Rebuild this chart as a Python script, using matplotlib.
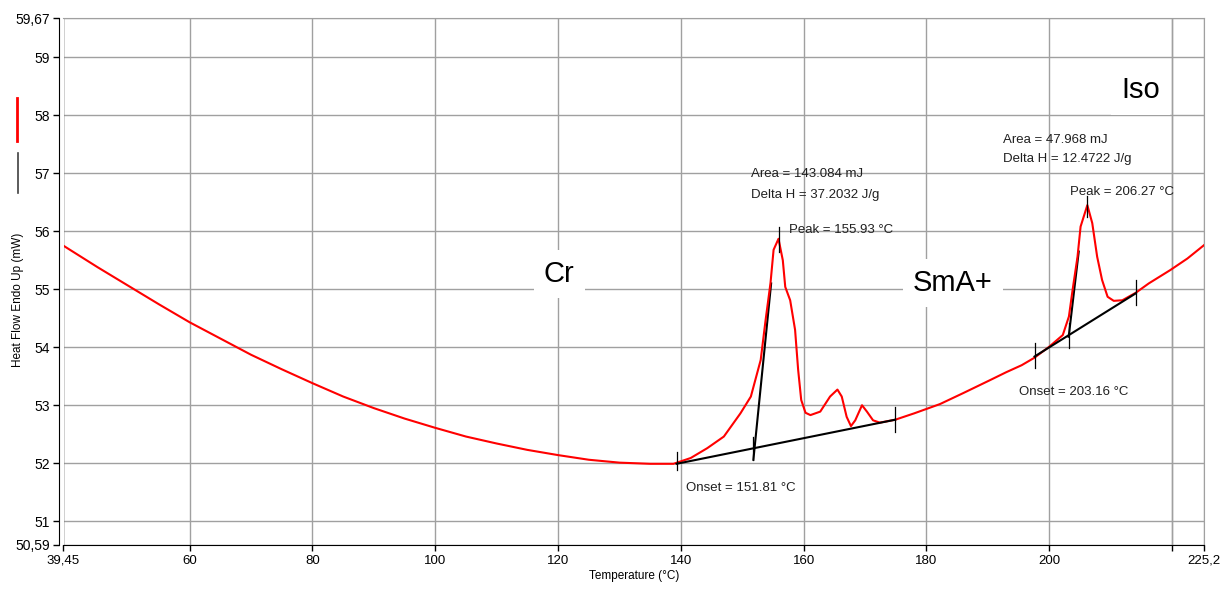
import numpy as np
import matplotlib
matplotlib.use('Agg')
import matplotlib.pyplot as plt
from matplotlib.lines import Line2D

plt.rcParams['font.family'] = ['Liberation Sans', 'DejaVu Sans']

# DSC trace (temperature in C, heat flow in mW)
temp = [39.45, 45.0, 50.0, 55.0, 60.0, 65.0, 70.0, 75.0, 80.0, 85.0, 90.0, 95.0,
        100.0, 105.0, 110.0, 115.0, 120.0, 125.0, 130.0, 135.0, 138.8,
        141.6, 144.3, 147.0, 149.7, 151.4, 153.0, 153.8, 154.6,
        155.1, 155.9, 156.6, 157.0, 157.8, 158.6, 159.1, 159.6, 160.3, 161.1, 162.7,
        164.3, 165.5, 166.2, 167.0, 167.7, 168.4, 169.5, 170.3, 171.3, 172.4, 174.9,
        178.0, 182.2, 186.0, 190.3, 193.0, 195.5, 197.6, 200.0, 202.2, 203.2, 203.8,
        204.6, 205.1, 206.2, 207.0, 207.8, 208.6, 209.5, 210.5, 211.9, 214.1, 216.2,
        219.7, 222.5, 225.2]
heat = [55.75, 55.38, 55.06, 54.74, 54.43, 54.15, 53.87, 53.62, 53.38, 53.15, 52.95, 52.77,
        52.61, 52.46, 52.34, 52.23, 52.14, 52.06, 52.01, 51.99, 51.99,
        52.09, 52.26, 52.46, 52.86, 53.15, 53.78, 54.47, 55.11,
        55.68, 55.87, 55.50, 55.04, 54.81, 54.30, 53.61, 53.09, 52.87, 52.83, 52.89,
        53.15, 53.27, 53.15, 52.80, 52.64, 52.74, 53.00, 52.89, 52.74, 52.70, 52.75,
        52.86, 53.02, 53.21, 53.43, 53.57, 53.69, 53.82, 54.01, 54.21, 54.53, 54.99,
        55.56, 56.08, 56.45, 56.14, 55.56, 55.16, 54.87, 54.80, 54.81, 54.94, 55.10,
        55.33, 55.53, 55.76]

# integration baselines and tangents (black)
base1_t = [139.3, 174.9]
base1_v = [51.99, 52.75]
tan1_t = [151.81, 154.7]
tan1_v = [52.06, 55.10]
base2_t = [197.6, 214.1]
base2_v = [53.84, 54.93]
tan2_t = [203.16, 204.8]
tan2_v = [54.18, 55.65]

# small vertical marks: (temperature, low, high)
marks = [(139.3, 51.88, 52.19), (174.9, 52.54, 52.97), (151.81, 52.06, 52.45),
         (156.0, 55.64, 56.07), (197.6, 53.64, 54.07), (214.1, 54.73, 55.16),
         (203.16, 53.99, 54.42), (206.2, 56.25, 56.60)]

notes = [(151.5, 56.99, 'Area = 143.084 mJ'),
         (151.5, 56.62, 'Delta H = 37.2032 J/g'),
         (157.6, 56.03, 'Peak = 155.93 °C'),
         (140.8, 51.57, 'Onset = 151.81 °C'),
         (192.4, 57.57, 'Area = 47.968 mJ'),
         (192.4, 57.24, 'Delta H = 12.4722 J/g'),
         (203.4, 56.68, 'Peak = 206.27 °C'),
         (195.0, 53.22, 'Onset = 203.16 °C')]

phases = [(120.2, 55.26, 'Cr'), (184.3, 55.11, 'SmA+'), (214.9, 58.43, 'Iso')]

xticks = [39.45, 60, 80, 100, 120, 140, 160, 180, 200, 220, 225.2]
xlabels = ['39,45', '60', '80', '100', '120', '140', '160', '180', '200', '', '225,2']
yticks = [50.59, 51, 52, 53, 54, 55, 56, 57, 58, 59, 59.67]
ylabels = ['50,59', '51', '52', '53', '54', '55', '56', '57', '58', '59', '59,67']

W, H = 1221, 592
fig = plt.figure(figsize=(W / 100, H / 100), dpi=100)
ax = fig.add_axes([63.5 / W, 47 / H, (1204 - 63.5) / W, (545 - 18.4) / H])

ax.set_xlim(39.45, 225.2)
ax.set_ylim(50.59, 59.67)
ax.set_xticks(xticks)
ax.set_xticklabels(xlabels, fontsize=9.5)
ax.set_yticks(yticks)
ax.set_yticklabels(ylabels, fontsize=9.5)
ax.tick_params(direction='out', length=4, width=1, color='black', pad=3)
ax.grid(True, color='#a0a0a0', linewidth=1)
ax.set_axisbelow(True)
ax.axvline(220, color='#a0a0a0', linewidth=1, zorder=0.5)

for s in ['top', 'right']:
    ax.spines[s].set_color('#a0a0a0')
ax.spines['left'].set_position(('outward', 3))
ax.spines['left'].set_color('black')
ax.spines['bottom'].set_color('black')
ax.axvline(39.45, color='#606060', linewidth=1, zorder=1)

ax.plot(temp, heat, color='red', linewidth=1.5, zorder=3)
ax.plot(base1_t, base1_v, color='black', linewidth=1.5, zorder=4)
ax.plot(tan1_t, tan1_v, color='black', linewidth=1.5, zorder=2)
ax.plot(base2_t, base2_v, color='black', linewidth=1.5, zorder=4)
ax.plot(tan2_t, tan2_v, color='black', linewidth=1.5, zorder=2)
for t, lo, hi in marks:
    ax.plot([t, t], [lo, hi], color='black', linewidth=0.9, zorder=4)

for t, v, s in notes:
    ax.text(t, v, s, fontsize=9.5, ha='left', va='center', color='#202020', zorder=5)

for t, v, s in phases:
    ax.text(t, v, s, fontsize=21, ha='center', va='center', zorder=5,
            bbox=dict(boxstyle='square,pad=0.35', facecolor='white', edgecolor='none'))

ax.set_xlabel('Temperature (°C)', fontsize=8.5, labelpad=2)
fig.text(18 / W, 1 - 300 / H, 'Heat Flow Endo Up (mW)', fontsize=8.5,
         rotation=90, ha='center', va='center')

# legend markers on the left edge
fig.add_artist(Line2D([17 / W, 17 / W], [1 - 98 / H, 1 - 141 / H], color='red', linewidth=2))
fig.add_artist(Line2D([18 / W, 18 / W], [1 - 153 / H, 1 - 193 / H], color='#404040', linewidth=1.2))

fig.savefig('out.png', dpi=100)
